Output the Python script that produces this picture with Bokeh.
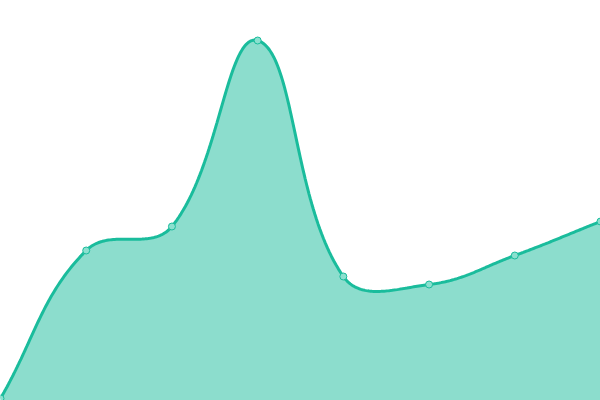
import numpy as np
from bokeh.plotting import figure
from bokeh.models import Range1d
from bokeh.embed import file_html
from bokeh.resources import INLINE

# data
labels = ["1", "2", "3", "4", "5", "6", "7", "8"]
values = [2, 150, 174, 360, 124, 116, 145, 179]

W, H = 600, 400
Y_MAX = 400
xs = np.arange(len(values), dtype=float)
ys = np.array(values, dtype=float)

# screen-space positions for spline control points (Chart.js style, tension 0.4)
sx = xs / (len(values) - 1) * W
sy = ys / Y_MAX * H
t = 0.4
n = len(values)
cp_prev = np.zeros((n, 2))
cp_next = np.zeros((n, 2))
for i in range(n):
    p0 = np.array([sx[max(i - 1, 0)], sy[max(i - 1, 0)]])
    p1 = np.array([sx[i], sy[i]])
    p2 = np.array([sx[min(i + 1, n - 1)], sy[min(i + 1, n - 1)]])
    d01 = np.hypot(*(p1 - p0))
    d12 = np.hypot(*(p2 - p1))
    tot = d01 + d12
    s01 = d01 / tot if tot else 0
    s12 = d12 / tot if tot else 0
    cp_prev[i] = p1 - t * s01 * (p2 - p0)
    cp_next[i] = p1 + t * s12 * (p2 - p0)

cx, cy = [], []
tt = np.linspace(0, 1, 60)
for i in range(n - 1):
    P0 = np.array([sx[i], sy[i]])
    P1 = cp_next[i]
    P2 = cp_prev[i + 1]
    P3 = np.array([sx[i + 1], sy[i + 1]])
    for u in tt[:-1] if i < n - 2 else tt:
        b = ((1 - u) ** 3) * P0 + 3 * ((1 - u) ** 2) * u * P1 + 3 * (1 - u) * u * u * P2 + u ** 3 * P3
        cx.append(b[0] / W * (n - 1))
        cy.append(b[1] / H * Y_MAX)

p = figure(width=W, height=H, output_backend="svg", toolbar_location=None,
           x_range=Range1d(0, n - 1), y_range=Range1d(0, Y_MAX),
           min_border=0, min_border_left=0, min_border_right=0,
           min_border_top=0, min_border_bottom=0)
p.axis.visible = False
p.grid.visible = False
p.outline_line_color = None
p.background_fill_color = "white"
p.border_fill_color = "white"

p.varea(x=cx, y1=0, y2=cy, fill_color="#1ABC9C", fill_alpha=0.5)
p.line(cx, cy, line_color="#1ABC9C", line_width=3)
p.scatter(xs, ys, size=7, fill_color="#8BE0CF", line_color="#1ABC9C", line_width=1)

open("out.html", "w").write(file_html(p, INLINE))
